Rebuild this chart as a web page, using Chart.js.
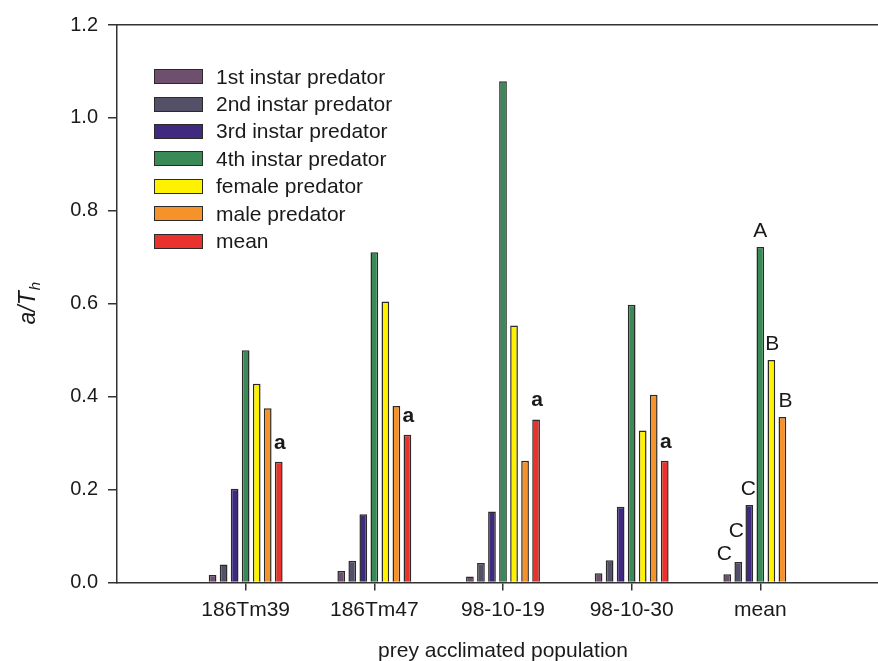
<!DOCTYPE html>
<html>
<head>
<meta charset="utf-8">
<script src="https://cdn.jsdelivr.net/npm/chart.js@4.4.1/dist/chart.umd.min.js"></script>
<style>
  html, body { margin: 0; padding: 0; background: #fff; overflow: hidden; }
  #wrap { position: relative; width: 878px; height: 661px; overflow: hidden; }
  #legend { position: absolute; left: 154px; top: 63px; font-family: "Liberation Sans", Arial, sans-serif; font-size: 21px; color: #1a1a1a; }
  .row { height: 27.4px; display: flex; align-items: center; white-space: nowrap; }
  .box { width: 47px; height: 13px; border: 1.5px solid #2a2a2a; margin-right: 13px; }
</style>
</head>
<body>
<div id="wrap">
  <canvas id="chart" width="900" height="661"></canvas>
  <div id="legend"></div>
</div>
<script>
// blank slots at both ends keep the empty space left and right of the groups
const categories = ['', '186Tm39', '186Tm47', '98-10-19', '98-10-30', 'mean', ''];
const seriesNames = ['1st instar predator', '2nd instar predator', '3rd instar predator', '4th instar predator', 'female predator', 'male predator', 'mean'];
const seriesColors = ['#6e506e', '#545068', '#3f2a80', '#3a8a58', '#fff200', '#f5922a', '#e8322b'];

const instar1 = [null, 0.016, 0.025, 0.013, 0.020, 0.018, null];
const instar2 = [null, 0.039, 0.047, 0.042, 0.048, 0.044, null];
const instar3 = [null, 0.202, 0.147, 0.153, 0.163, 0.167, null];
const instar4 = [null, 0.500, 0.711, 1.079, 0.598, 0.722, null];
const female  = [null, 0.428, 0.605, 0.553, 0.327, 0.479, null];
const male    = [null, 0.375, 0.380, 0.262, 0.404, 0.356, null];
const meanVal = [null, 0.260, 0.318, 0.351, 0.262, null, null];

const yTicks = [0, 0.2, 0.4, 0.6, 0.8, 1.0, 1.2];

// letters over the red bars (dataset "mean", one per population)
const meanLetters = [null, 'a', 'a', 'a', 'a', null, null];
// letters over the bars of the "mean" group (one per stage)
const stageLetters = ['C', 'C', 'C', 'A', 'B', 'B'];

const allSeries = [instar1, instar2, instar3, instar4, female, male, meanVal];

const FONT = '"Liberation Sans", Arial, sans-serif';

// legend
const legend = document.getElementById('legend');
seriesNames.forEach((name, i) => {
  const row = document.createElement('div');
  row.className = 'row';
  row.innerHTML = `<span class="box" style="background:${seriesColors[i]}"></span><span>${name}</span>`;
  legend.appendChild(row);
});

// small hand nudges for the letters so they don't collide (dx, lift above bar)
const stageNudge = [[-3, 14], [-2, 25], [-1, 10], [0, 10], [1, 10], [3, 10]];

const lettersPlugin = {
  id: 'letters',
  afterDatasetsDraw(chart) {
    const ctx = chart.ctx;
    ctx.save();
    ctx.fillStyle = '#1a1a1a';
    ctx.textAlign = 'center';
    ctx.textBaseline = 'alphabetic';
    // bold "a" over red bars
    ctx.font = 'bold 21px ' + FONT;
    const redMeta = chart.getDatasetMeta(6);
    meanLetters.forEach((t, j) => {
      if (!t) return;
      const bar = redMeta.data[j];
      ctx.fillText(t, bar.x + 1, bar.y - 13);
    });
    // capital letters over the mean group
    ctx.font = '21px ' + FONT;
    const meanIdx = categories.indexOf('mean');
    stageLetters.forEach((t, i) => {
      const bar = chart.getDatasetMeta(i).data[meanIdx];
      const [dx, lift] = stageNudge[i];
      ctx.fillText(t, bar.x + dx, bar.y - lift);
    });
    // y axis title a/T with subscript h
    const area = chart.chartArea;
    const cy = (area.top + area.bottom) / 2;
    ctx.translate(35, cy);
    ctx.rotate(-Math.PI / 2);
    ctx.textAlign = 'left';
    ctx.font = 'italic 23px ' + FONT;
    const main = 'a/T';
    const w1 = ctx.measureText(main).width;
    ctx.font = 'italic 15px ' + FONT;
    const w2 = ctx.measureText('h').width;
    const x0 = -(w1 + w2) / 2;
    ctx.font = 'italic 23px ' + FONT;
    ctx.fillText(main, x0, 0);
    ctx.font = 'italic 15px ' + FONT;
    ctx.fillText('h', x0 + w1 + 1, 5);
    ctx.restore();
  }
};

new Chart(document.getElementById('chart'), {
  type: 'bar',
  data: {
    labels: categories,
    datasets: allSeries.map((d, i) => ({
      label: seriesNames[i],
      data: d,
      backgroundColor: seriesColors[i],
      borderColor: '#2a2a2a',
      borderWidth: 1.5,
      categoryPercentage: 0.6,
      barPercentage: 0.7
    }))
  },
  options: {
    responsive: false,
    animation: false,
    layout: { padding: { left: 0, right: 11, top: 0, bottom: 0 } },
    plugins: {
      legend: { display: false },
      tooltip: { enabled: false }
    },
    scales: {
      x: {
        offset: false,
        grid: {
          offset: false,
          drawOnChartArea: false,
          tickLength: 8,
          lineWidth: 1.5,
          color: (c) => (c.index === 0 || c.index === categories.length - 1) ? 'rgba(0,0,0,0)' : '#333'
        },
        border: { color: '#333', width: 1.5 },
        ticks: {
          autoSkip: false,
          maxRotation: 0,
          padding: 7,
          color: '#1a1a1a',
          font: { family: FONT, size: 21 }
        },
        title: {
          display: true,
          text: 'prey acclimated population',
          color: '#1a1a1a',
          padding: { top: 0, bottom: 0 },
          font: { family: FONT, size: 21, lineHeight: 0.9 }
        },
        afterFit: (s) => { s.height = 78.5; }
      },
      x2: {
        position: 'top',
        offset: false,
        grid: { display: false },
        ticks: { display: false },
        border: { display: true, color: '#333', width: 1.5 },
        afterFit: (s) => { s.height = 25; }
      },
      y: {
        min: 0,
        max: 1.2,
        afterBuildTicks: (s) => { s.ticks = yTicks.map(v => ({ value: v })); },
        grid: {
          drawOnChartArea: false,
          tickLength: 9,
          lineWidth: 1.5,
          color: '#333'
        },
        border: { color: '#333', width: 1.5 },
        ticks: {
          padding: 10,
          color: '#1a1a1a',
          font: { family: FONT, size: 20 },
          callback: (v) => Number(v).toFixed(1)
        },
        afterFit: (s) => { s.width = 117; }
      }
    }
  },
  plugins: [lettersPlugin]
});
</script>
</body>
</html>
